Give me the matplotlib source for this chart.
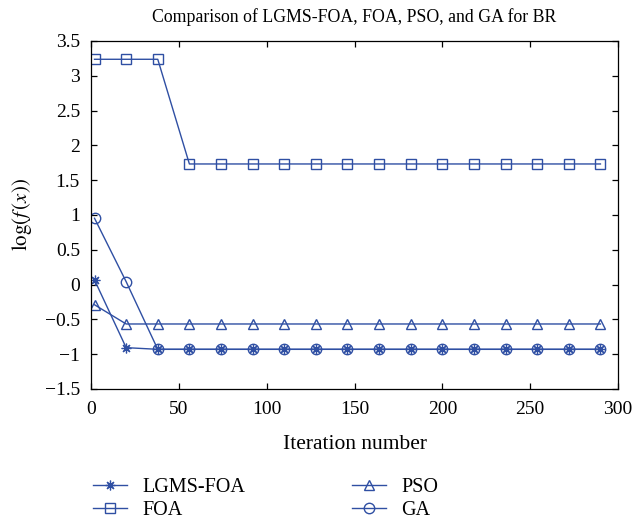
import matplotlib
matplotlib.use('Agg')
import matplotlib.pyplot as plt

plt.rcParams['font.family'] = ['Liberation Serif', 'DejaVu Serif']
plt.rcParams['mathtext.fontset'] = 'stix'

iterations = [2, 20, 38, 56, 74, 92, 110, 128, 146, 164, 182, 200, 218, 236, 254, 272, 290]
lgms_foa = [0.066, -0.906] + [-0.93] * 15
foa = [3.237, 3.237, 3.237] + [1.733] * 14
pso = [-0.29] + [-0.566] * 16
ga = [0.953, 0.042] + [-0.93] * 15

xticks = [0, 50, 100, 150, 200, 250, 300]
yticks = [-1.5, -1, -0.5, 0, 0.5, 1, 1.5, 2, 2.5, 3, 3.5]
color = '#2f4fa3'

fig = plt.figure(figsize=(6.36, 5.22), dpi=100)
ax = fig.add_axes([0.1431, 0.2548, 0.8286, 0.6667])

ax.plot(iterations, lgms_foa, color=color, lw=1.0, marker=(8, 2, 0), ms=7, mew=0.9,
        label='LGMS-FOA')
ax.plot(iterations, foa, color=color, lw=1.0, marker='s', ms=6.5, mfc='none', mew=1.0,
        label='FOA')
ax.plot(iterations, pso, color=color, lw=1.0, marker='^', ms=7.5, mfc='none', mew=1.0,
        label='PSO')
ax.plot(iterations, ga, color=color, lw=1.0, marker='o', ms=7.5, mfc='none', mew=1.0,
        label='GA')

ax.set_xlim(0, 300)
ax.set_ylim(-1.5, 3.5)
ax.set_xticks(xticks)
ax.set_yticks(yticks)
ax.set_yticklabels(['\u22121.5', '\u22121', '\u22120.5', '0', '0.5', '1', '1.5', '2', '2.5', '3', '3.5'])
ax.tick_params(direction='in', top=True, right=True, labelsize=14, length=4, width=0.9)
ax.tick_params(axis='x', pad=9)
ax.tick_params(axis='y', pad=8)
for s in ax.spines.values():
    s.set_linewidth(0.9)

ax.set_title('Comparison of LGMS-FOA, FOA, PSO, and GA for BR', fontsize=12.8, pad=14)
ax.set_xlabel('Iteration number', fontsize=15.5, labelpad=12)
ax.set_ylabel(r'$\log(f\,(x))$', fontsize=15, labelpad=8)

fig.legend(loc='upper left', bbox_to_anchor=(0.146, 0.085), ncol=2, frameon=False,
           fontsize=14.5, handlelength=1.7, columnspacing=5.3, labelspacing=0.2,
           handletextpad=0.75, borderaxespad=0, borderpad=0)

fig.savefig('out.png', dpi=100)
